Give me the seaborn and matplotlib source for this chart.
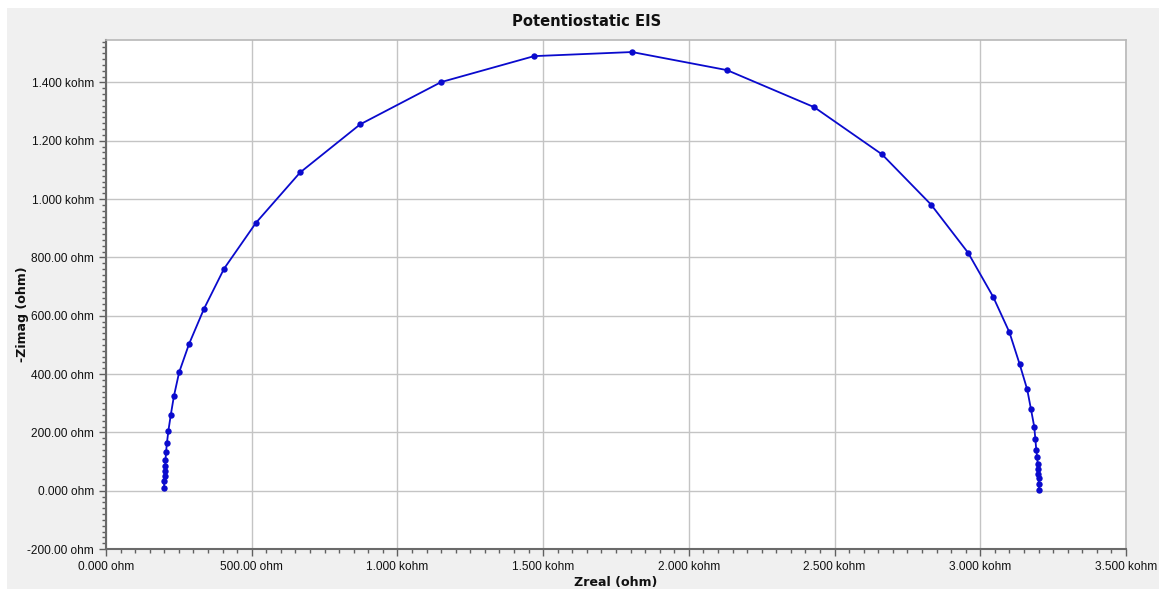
import numpy as np
import pandas as pd
import seaborn as sns
import matplotlib
matplotlib.use("Agg")
import matplotlib.pyplot as plt
from matplotlib.ticker import FuncFormatter, MultipleLocator
from matplotlib.patches import Rectangle

# Nyquist data (ohm), high to low frequency
z_real = [199, 199, 199, 199, 200, 200, 200, 201, 202, 203, 204, 206, 209, 214,
          222, 233, 251, 285, 336, 405, 515, 666, 872, 1150, 1469, 1805, 2131,
          2430, 2663, 2831, 2958, 3044, 3100, 3135, 3161, 3174, 3185, 3189,
          3192, 3195, 3197, 3198, 3199, 3200, 3201, 3201, 3202]
z_imag = [1, 5, 10, 16, 23, 31, 41, 52, 66, 84, 104, 131, 163, 205,
          258, 324, 406, 503, 623, 761, 919, 1091, 1256, 1401, 1490, 1504, 1442,
          1315, 1153, 981, 816, 665, 543, 434, 347, 279, 220, 177,
          141, 115, 92, 73, 57, 42, 28, 15, 3]

x_ticks = [0, 500, 1000, 1500, 2000, 2500, 3000, 3500]
y_ticks = [-200, 0, 200, 400, 600, 800, 1000, 1200, 1400]

df = pd.DataFrame({"Zreal": z_real, "Zimag": z_imag})

sns.set_theme(style="white")
plt.rcParams["font.family"] = ["DejaVu Sans"]

fig = plt.figure(figsize=(11.59, 5.89), dpi=100, facecolor="white")
bg = Rectangle((7 / 1159, 0), 1, (589 - 8) / 589, transform=fig.transFigure,
               facecolor="#f0f0f0", edgecolor="none", zorder=-10)
fig.add_artist(bg)
ax = fig.add_axes([106 / 1159, 40 / 589, 1020 / 1159, 509.5 / 589])
ax.set_facecolor("white")

sns.lineplot(data=df, x="Zreal", y="Zimag", sort=False, ax=ax, color="#0a0acd",
             linewidth=1.3, marker="o", markersize=4.6, markeredgewidth=0,
             zorder=3)


def ohm_fmt(v, pos):
    if abs(v) >= 1000:
        return f"{v / 1000:.3f} kohm"
    if v == 0:
        return "0.000 ohm"
    return f"{v:.2f} ohm"


ax.set_xlim(0, 3500)
ax.set_ylim(-200, 1547)
ax.set_xticks(x_ticks)
ax.set_yticks(y_ticks)
ax.xaxis.set_minor_locator(MultipleLocator(50))
ax.yaxis.set_minor_locator(MultipleLocator(20))
ax.xaxis.set_major_formatter(FuncFormatter(ohm_fmt))
ax.yaxis.set_major_formatter(FuncFormatter(ohm_fmt))

ax.grid(True, which="major", color="#c4c4c4", linewidth=1.0)
ax.set_axisbelow(True)
ax.tick_params(which="both", direction="out", colors="#606060",
               labelcolor="#111111", labelsize=8.6)
ax.tick_params(which="major", length=5, width=1)
ax.tick_params(which="minor", length=3, width=1)
ax.tick_params(axis="both", which="both", bottom=True, left=True)
for lbl in ax.get_xticklabels() + ax.get_yticklabels():
    lbl.set_fontfamily("Liberation Sans")

for side in ["left", "bottom"]:
    ax.spines[side].set_color("#6a6a6a")
    ax.spines[side].set_linewidth(1.5)
for side in ["top", "right"]:
    ax.spines[side].set_color("#b8b8b8")
    ax.spines[side].set_linewidth(1.2)

fig.text(587 / 1159, 1 - 21 / 589, "Potentiostatic EIS", fontsize=10.6,
         fontweight="bold", color="#111111", ha="center", va="center")
ax.set_xlabel("Zreal (ohm)", fontsize=9.1, fontweight="bold", labelpad=2,
              color="#111111")
ax.set_ylabel("-Zimag (ohm)", fontsize=9.1, fontweight="bold",
              color="#111111")
ax.yaxis.set_label_coords((29 - 106) / 1020, (549 - 314) / 509.5)

fig.savefig("out.png", dpi=100, facecolor=fig.get_facecolor())
